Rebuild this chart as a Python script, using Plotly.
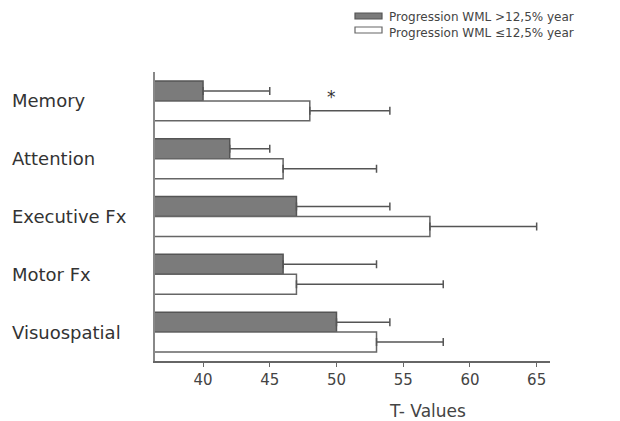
import plotly.graph_objects as go

categories = ["Memory", "Attention", "Executive Fx", "Motor Fx", "Visuospatial"]
high_mean = [40, 42, 47, 46, 50]
high_sd = [5, 3, 7, 7, 4]
low_mean = [48, 46, 57, 47, 53]
low_sd = [6, 7, 8, 11, 5]
x_ticks = [40, 45, 50, 55, 60, 65]
series_names = ["Progression WML >12,5% year", "Progression WML \u226412,5% year"]
series_fill = ["#7b7b7b", "#ffffff"]
series_edge = ["#555555", "#666666"]
x_title = "T- Values"

FONT = "DejaVu Sans, Verdana, sans-serif"
W, H = 620, 421
L, R, T, B = 155, 70, 72, 60
PW, PH = W - L - R, H - T - B


def px(x):
    return (x - L) / PW


def py(y):
    return (H - B - y) / PH


fig = go.Figure()
for name, m, sd, fc, ec in zip(series_names, [high_mean, low_mean], [high_sd, low_sd],
                               series_fill, series_edge):
    fig.add_trace(go.Bar(
        y=categories, x=m, orientation="h", name=name, showlegend=False,
        marker=dict(color=fc, line=dict(color=ec, width=1.5)),
        error_x=dict(type="data", array=sd, arrayminus=[0] * len(sd), symmetric=False,
                     color="#555555", thickness=1.5, width=4),
    ))

# category labels (left aligned)
for c in categories:
    fig.add_annotation(x=px(10), xref="paper", xanchor="left", y=c, yref="y",
                       text=c, showarrow=False,
                       font=dict(family=FONT, size=18, color="#333333"))

# significance marker
fig.add_annotation(x=49.6, y=categories[0], yref="y", xref="x", yshift=4, text="*",
                   showarrow=False, font=dict(family=FONT, size=17, color="#333333"))

# x title
fig.add_annotation(x=px(427), xref="paper", y=py(411), yref="paper", text=x_title,
                   showarrow=False, xanchor="center", yanchor="middle",
                   font=dict(family=FONT, size=17, color="#444444"))

# legend (manual): swatches + one two-line text block
sw_y = [(13, 19), (27, 33)]
for i in range(len(series_names)):
    fig.add_shape(type="rect", xref="paper", yref="paper",
                  x0=px(355), x1=px(382), y0=py(sw_y[i][1]), y1=py(sw_y[i][0]),
                  fillcolor=series_fill[i], line=dict(color=series_edge[i], width=1.2))
fig.add_annotation(x=px(387), xref="paper", xanchor="left", y=py(8), yref="paper",
                   yanchor="top", align="left", text="<br>".join(series_names), showarrow=False,
                   font=dict(family=FONT, size=12, color="#444444"))

fig.update_layout(
    width=W, height=H,
    margin=dict(l=L, r=R, t=T, b=B),
    paper_bgcolor="white", plot_bgcolor="white",
    barmode="group", bargap=0.31, bargroupgap=0,
    font=dict(family=FONT, color="#444444"),
    showlegend=False,
    xaxis=dict(range=[36.4, 66], tickvals=x_ticks, showline=True, linecolor="#666666", linewidth=1.5,
               ticks="outside", ticklen=4, tickcolor="#666666", showgrid=False, zeroline=False,
               tickfont=dict(family=FONT, size=15, color="#444444")),
    yaxis=dict(autorange=False, range=[4.5, -0.5], showline=True, linecolor="#888888", linewidth=1.5,
               showticklabels=False, ticks="", showgrid=False, zeroline=False),
)

fig.write_html("out.html")
